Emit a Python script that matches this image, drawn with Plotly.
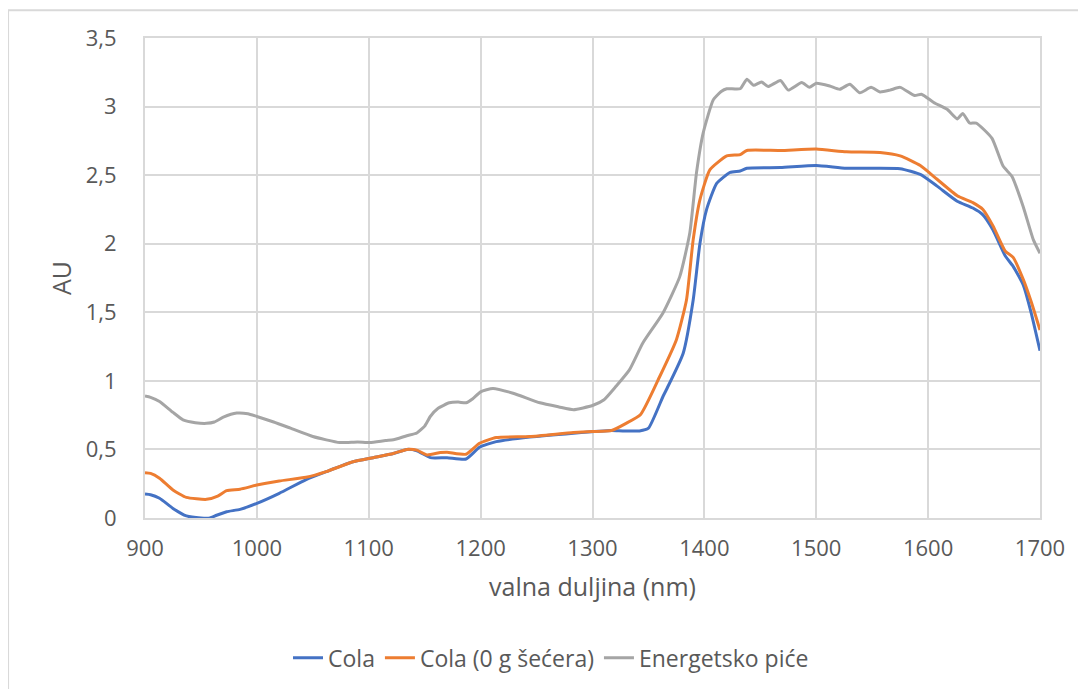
import plotly.graph_objects as go

# Wavelength (nm) and absorbance (AU)
cola_nm = [900, 905, 913, 925, 937, 950, 958, 964, 973, 985, 1000, 1020, 1044,
           1062, 1086, 1104, 1122, 1134, 1143, 1155, 1170, 1187, 1199, 1214,
           1244, 1283, 1317, 1327, 1342, 1350, 1363, 1366, 1381, 1390, 1396,
           1402, 1411, 1423, 1432, 1438, 1468, 1500, 1527, 1575, 1593, 1608,
           1626, 1640, 1649, 1658, 1669, 1676, 1685, 1692, 1700]
cola_au = [0.175, 0.17, 0.144, 0.07, 0.015, 0.0, 0.0, 0.02, 0.046, 0.063, 0.107,
           0.18, 0.28, 0.338, 0.41, 0.44, 0.47, 0.50, 0.49, 0.44, 0.44, 0.43,
           0.516, 0.557, 0.59, 0.618, 0.638, 0.635, 0.635, 0.655, 0.886, 0.935,
           1.20, 1.59, 2.0, 2.25, 2.44, 2.52, 2.53, 2.55, 2.555, 2.57, 2.55,
           2.547, 2.505, 2.42, 2.31, 2.26, 2.21, 2.10, 1.91, 1.835, 1.70, 1.50,
           1.22]

zero_nm = [900, 905, 913, 925, 937, 955, 965, 973, 985, 1000, 1020, 1044, 1062,
           1086, 1104, 1122, 1134, 1143, 1152, 1164, 1170, 1187, 1199, 1214,
           1244, 1283, 1300, 1317, 1330, 1343, 1360, 1375, 1384, 1390, 1396,
           1405, 1420, 1432, 1438, 1468, 1500, 1527, 1557, 1575, 1593, 1608,
           1626, 1640, 1649, 1658, 1669, 1676, 1685, 1692, 1700]
zero_au = [0.33, 0.325, 0.29, 0.204, 0.15, 0.136, 0.16, 0.2, 0.21, 0.24, 0.27,
           0.297, 0.338, 0.41, 0.44, 0.47, 0.50, 0.495, 0.46, 0.477, 0.48,
           0.465, 0.545, 0.587, 0.594, 0.623, 0.63, 0.638, 0.69, 0.755, 1.03,
           1.30, 1.59, 2.03, 2.32, 2.54, 2.64, 2.65, 2.68, 2.68, 2.69, 2.67,
           2.665, 2.64, 2.57, 2.47, 2.35, 2.30, 2.25, 2.13, 1.945, 1.90, 1.74,
           1.58, 1.37]

energy_nm = [900, 905, 913, 925, 934, 945, 955, 962, 970, 982, 992, 1000, 1015,
             1030, 1050, 1074, 1090, 1101, 1115, 1122, 1134, 1143, 1150, 1155,
             1162, 1172, 1180, 1187, 1193, 1200, 1211, 1229, 1253, 1270, 1283,
             1300, 1310, 1321, 1333, 1345, 1363, 1378, 1387, 1393, 1399, 1408,
             1415, 1420, 1432, 1438, 1444, 1451, 1457, 1468, 1475, 1487, 1494,
             1500, 1512, 1521, 1530, 1539, 1549, 1557, 1566, 1575, 1588, 1594,
             1605, 1617, 1626, 1631, 1637, 1643, 1657, 1667, 1675, 1685, 1694,
             1700]
energy_au = [0.89, 0.88, 0.85, 0.77, 0.716, 0.695, 0.69, 0.70, 0.735, 0.765,
             0.76, 0.74, 0.70, 0.655, 0.594, 0.55, 0.555, 0.55, 0.565, 0.57,
             0.60, 0.62, 0.67, 0.74, 0.80, 0.84, 0.845, 0.84, 0.87, 0.92, 0.945,
             0.91, 0.84, 0.81, 0.79, 0.82, 0.86, 0.96, 1.08, 1.276, 1.495, 1.76,
             2.08, 2.52, 2.81, 3.05, 3.11, 3.13, 3.13, 3.20, 3.155, 3.18, 3.146,
             3.19, 3.12, 3.175, 3.14, 3.17, 3.15, 3.126, 3.163, 3.10, 3.14,
             3.107, 3.12, 3.14, 3.08, 3.09, 3.03, 2.98, 2.91, 2.95, 2.88, 2.88,
             2.77, 2.566, 2.49, 2.27, 2.03, 1.93]

series = [
    ("Cola", cola_nm, cola_au, "#4472C4"),
    ("Cola (0 g šećera)", zero_nm, zero_au, "#ED7D31"),
    ("Energetsko piće", energy_nm, energy_au, "#A5A5A5"),
]

TEXT = "#595959"
GRID = "#D9D9D9"
FONT = "Open Sans"

fig = go.Figure()
for name, x, y, color in series:
    fig.add_trace(go.Scatter(
        x=x, y=y, name=name, mode="lines",
        line=dict(color=color, width=3, shape="spline", smoothing=0.5),
    ))

fig.update_layout(
    width=1086,
    height=689,
    margin=dict(l=137, r=54, t=30, b=179),
    paper_bgcolor="white",
    plot_bgcolor="white",
    separators=",.",
    font=dict(family=FONT, size=22, color=TEXT),
    legend=dict(
        orientation="h",
        xref="container", yref="container",
        x=0.5, xanchor="center",
        y=0.057, yanchor="middle",
        font=dict(size=23, color=TEXT),
    ),
    shapes=[dict(
        type="rect", xref="paper", yref="paper",
        x0=-0.153, x1=1.1, y0=-0.4, y1=1.058,
        line=dict(color=GRID, width=2),
    )],
)
fig.update_xaxes(
    range=[900, 1700], dtick=100,
    showgrid=True, gridcolor=GRID, gridwidth=2,
    showline=True, linecolor=GRID, linewidth=2, mirror=True,
    zeroline=False, ticks="", ticklabelstandoff=10,
    title=dict(text="valna duljina (nm)", font=dict(size=25, color=TEXT), standoff=17),
)
fig.update_yaxes(
    range=[0, 3.5], dtick=0.5,
    showgrid=True, gridcolor=GRID, gridwidth=2,
    showline=True, linecolor=GRID, linewidth=2, mirror=True,
    zeroline=False, ticks="", ticklabelstandoff=22,
    title=dict(text="AU", font=dict(size=25, color=TEXT), standoff=7),
)

fig.write_html("out.html")
